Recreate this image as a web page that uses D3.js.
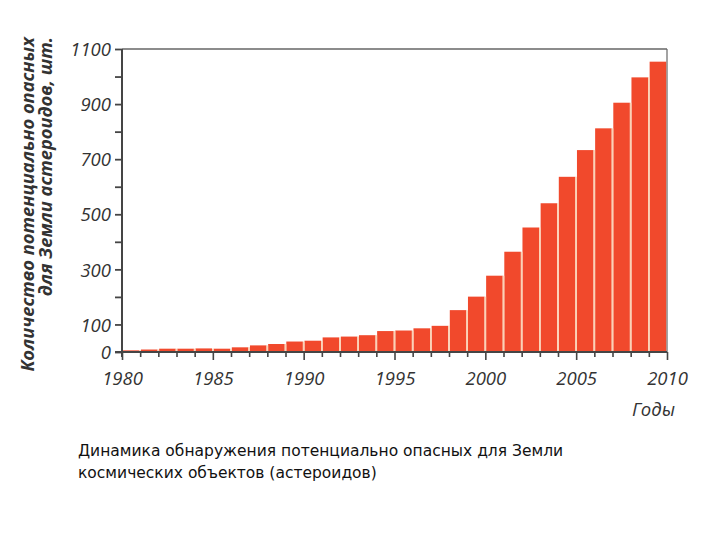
<!DOCTYPE html>
<html><head><meta charset="utf-8">
<script src="https://cdn.jsdelivr.net/npm/d3@7/dist/d3.min.js"></script>
<style>body{margin:0;background:#fff}svg{display:block}</style>
</head><body>
<svg id="c" width="720" height="540"></svg>
<script>
const years = [1980,1981,1982,1983,1984,1985,1986,1987,1988,1989,1990,1991,1992,1993,1994,1995,1996,1997,1998,1999,2000,2001,2002,2003,2004,2005,2006,2007,2008,2009];
const counts = [6,9,12,12,13,12,17,24,29,38,41,53,56,61,76,78,86,95,152,201,277,364,452,540,636,733,812,905,997,1054];
const yTickLabels = [0,100,300,500,700,900,1100];
const xTickLabels = [1980,1985,1990,1995,2000,2005,2010];
const yTitle = ["Количество потенциально опасных","для Земли астероидов, шт."];
const xTitle = "Годы";
const caption = ["Динамика обнаружения потенциально опасных для Земли","космических объектов (астероидов)"];

const svg = d3.select("#c");
const x = d3.scaleLinear().domain([1980,2010]).range([122,667]);
const y = d3.scaleLinear().domain([0,1100]).range([352,49]);
const axisCol = "#454545", textCol = "#333";
const tickFont = "'Open Sans', 'DejaVu Sans', sans-serif";

// frame top/right
svg.append("line").attr("x1",x(1980)).attr("x2",x(2010)).attr("y1",y(1100)).attr("y2",y(1100)).attr("stroke","#666").attr("stroke-width",1.5);
svg.append("line").attr("x1",x(2010)).attr("x2",x(2010)).attr("y1",y(1100)).attr("y2",y(0)).attr("stroke","#666").attr("stroke-width",1.2);

// bars
svg.append("g").selectAll("rect").data(years).join("rect")
  .attr("x", d => x(d)+0.8)
  .attr("width", d => x(d+1)-x(d)-1.6)
  .attr("y", (d,i) => y(counts[i]))
  .attr("height", (d,i) => y(0)-y(counts[i]))
  .attr("fill","#f1492c");
// light gaps
svg.append("g").selectAll("line").data(years.slice(1)).join("line")
  .attr("x1", d=>x(d)).attr("x2", d=>x(d))
  .attr("y1", (d,i)=>y(Math.min(counts[i],counts[i+1]))).attr("y2", y(0))
  .attr("stroke","#fbd2b4").attr("stroke-width",1.6);

// y axis
const yAxis = d3.axisLeft(y).tickValues(d3.range(0,1101,100)).tickSize(7)
  .tickFormat(d => yTickLabels.includes(d) ? d : "");
const gy = svg.append("g").attr("transform",`translate(${x(1980)},0)`).call(yAxis);
gy.select(".domain").attr("stroke",axisCol).attr("stroke-width",2).attr("d",`M0,${y(1100)}V${y(0)+5}`);
gy.selectAll(".tick line").attr("stroke",axisCol).attr("stroke-width",1.8);
gy.selectAll(".tick text").attr("font-family",tickFont).attr("font-style","italic").attr("font-size",18.5)
  .attr("fill",textCol).attr("x",-11).attr("dy","0.36em");

// x axis
const xAxis = d3.axisBottom(x).tickValues(d3.range(1980,2011,1)).tickSize(5)
  .tickFormat(d => xTickLabels.includes(d) ? d : "");
const gx = svg.append("g").attr("transform",`translate(0,${y(0)})`).call(xAxis);
gx.select(".domain").attr("stroke",axisCol).attr("stroke-width",1.8).attr("d",`M${x(1980)-7},0H${x(2010)}`);
gx.selectAll(".tick line").attr("stroke",axisCol).attr("stroke-width",1.6)
  .attr("y2", d => d%5===0 ? 8 : 5);
gx.selectAll(".tick text").attr("font-family",tickFont).attr("font-style","italic").attr("font-size",18.5)
  .attr("fill",textCol).attr("y",20).attr("dy","0.71em");

// x title
svg.append("text").attr("x",675).attr("y",416).attr("text-anchor","end")
  .attr("font-family",tickFont).attr("font-style","italic").attr("font-size",18.5).attr("fill",textCol).text(xTitle);

// y title
const yt = svg.append("text").attr("transform","translate(0,37) rotate(-90)")
  .attr("text-anchor","end").attr("font-family",tickFont).attr("font-style","italic")
  .attr("font-weight","bold").attr("font-size",18.3).attr("fill",textCol);
yTitle.forEach((t,i)=> yt.append("tspan").attr("x",0).attr("y", 34 + i*18).text(t));

// caption
const cap = svg.append("text").attr("font-family","'DejaVu Sans', Verdana, sans-serif").attr("font-size",15.5).attr("fill","#111");
caption.forEach((t,i)=> cap.append("tspan").attr("x",78).attr("y",456+i*22).text(t));
</script>
</body></html>
